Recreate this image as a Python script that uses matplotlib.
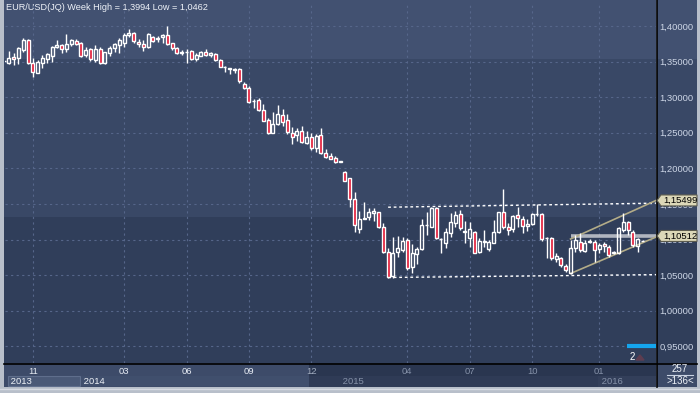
import numpy as np
import matplotlib.pyplot as plt
import matplotlib.transforms as mtransforms
from matplotlib.patches import Rectangle, Polygon

plt.rcParams['font.family'] = ['Liberation Sans', 'DejaVu Sans']

# weekly EUR/USD candles
opens = [1.3512, 1.3485, 1.3560, 1.3546, 1.3663, 1.3803, 1.3485, 1.3345, 1.3485, 1.3536,
         1.3579, 1.3710, 1.3733, 1.3672, 1.3747, 1.3794, 1.3766, 1.3588, 1.3672, 1.3522,
         1.3672, 1.3476, 1.3616, 1.3686, 1.3733, 1.3756, 1.3869, 1.3906, 1.3780, 1.3747,
         1.3700, 1.3850, 1.3817, 1.3841, 1.3873, 1.3756, 1.3686, 1.3616, 1.3633, 1.3649,
         1.3536, 1.3584, 1.3640, 1.3593, 1.3607, 1.3522, 1.3422, 1.3403, 1.3395, 1.3391,
         1.3185, 1.3124, 1.2947, 1.2961, 1.2820, 1.2680, 1.2502, 1.2624, 1.2745, 1.2680,
         1.2502, 1.2465, 1.2530, 1.2362, 1.2436, 1.2282, 1.2469, 1.2212, 1.2174, 1.2142,
         1.2093, 1.1945, 1.1861, 1.1566, 1.1145, 1.1295, 1.1313, 1.1379, 1.1383, 1.1173,
         1.0831, 1.0489, 1.0822, 1.0855, 1.0995, 1.0611, 1.0798, 1.0864, 1.1200, 1.1182,
         1.1439, 1.1009, 1.0957, 1.1098, 1.1229, 1.1355, 1.1110, 1.1018, 1.1112, 1.0831,
         1.0970, 1.0864, 1.0957, 1.1112, 1.1383, 1.1182, 1.1145, 1.1341, 1.1285, 1.1191,
         1.1220, 1.1353, 1.1360, 1.1016, 1.1018, 1.0724, 1.0738, 1.0630, 1.0527, 1.0878,
         1.0972, 1.0845, 1.0970, 1.0972, 1.0864, 1.0939, 1.0901, 1.0808, 1.0808, 1.1135,
         1.1252, 1.1112, 1.0911, 1.0983]
highs = [1.3525, 1.3649, 1.3616, 1.3700, 1.3827, 1.3813, 1.3546, 1.3522, 1.3593, 1.3625,
         1.3719, 1.3803, 1.3747, 1.3887, 1.3817, 1.3813, 1.3770, 1.3700, 1.3686, 1.3733,
         1.3710, 1.3640, 1.3719, 1.3766, 1.3827, 1.3897, 1.3953, 1.3920, 1.3813, 1.3803,
         1.3897, 1.3859, 1.3859, 1.3887, 1.3994, 1.3766, 1.3710, 1.3663, 1.3672, 1.3663,
         1.3616, 1.3649, 1.3672, 1.3630, 1.3616, 1.3532, 1.3438, 1.3415, 1.3410, 1.3405,
         1.3213, 1.3157, 1.2970, 1.2984, 1.2904, 1.2703, 1.2797, 1.2890, 1.2830, 1.2764,
         1.2577, 1.2563, 1.2596, 1.2530, 1.2502, 1.2483, 1.2563, 1.2268, 1.2212, 1.2174,
         1.2100, 1.1968, 1.1861, 1.1674, 1.1407, 1.1524, 1.1440, 1.1440, 1.1393, 1.1238,
         1.0878, 1.1042, 1.1051, 1.1042, 1.1018, 1.0939, 1.0901, 1.1285, 1.1393, 1.1454,
         1.1454, 1.1018, 1.1159, 1.1379, 1.1407, 1.1416, 1.1266, 1.1252, 1.1126, 1.1018,
         1.1135, 1.0995, 1.1275, 1.1393, 1.1706, 1.1238, 1.1346, 1.1454, 1.1332, 1.1285,
         1.1379, 1.1500, 1.1379, 1.1042, 1.1042, 1.0808, 1.0761, 1.0658, 1.0995, 1.1065,
         1.1088, 1.0995, 1.1004, 1.0995, 1.0948, 1.0972, 1.0925, 1.0836, 1.1170, 1.1369,
         1.1266, 1.1135, 1.1018, 1.0990]
lows = [1.3505, 1.3462, 1.3452, 1.3466, 1.3640, 1.3466, 1.3288, 1.3335, 1.3405, 1.3485,
        1.3499, 1.3686, 1.3625, 1.3640, 1.3719, 1.3733, 1.3569, 1.3560, 1.3513, 1.3494,
        1.3466, 1.3466, 1.3579, 1.3640, 1.3625, 1.3710, 1.3850, 1.3766, 1.3700, 1.3653,
        1.3686, 1.3780, 1.3770, 1.3766, 1.3733, 1.3663, 1.3607, 1.3593, 1.3485, 1.3522,
        1.3513, 1.3579, 1.3579, 1.3569, 1.3508, 1.3419, 1.3359, 1.3321, 1.3335, 1.3204,
        1.3110, 1.2914, 1.2853, 1.2811, 1.2661, 1.2483, 1.2493, 1.2610, 1.2596, 1.2483,
        1.2343, 1.2390, 1.2362, 1.2343, 1.2259, 1.2235, 1.2202, 1.2151, 1.2128, 1.2081,
        1.2090, 1.1819, 1.1454, 1.1112, 1.1089, 1.1285, 1.1276, 1.1266, 1.1159, 1.0817,
        1.0462, 1.0462, 1.0761, 1.0831, 1.0574, 1.0536, 1.0658, 1.0855, 1.1065, 1.1173,
        1.1004, 1.0808, 1.0878, 1.1042, 1.1182, 1.1135, 1.0957, 1.0901, 1.0817, 1.0817,
        1.0901, 1.0845, 1.0948, 1.1088, 1.1145, 1.1065, 1.1112, 1.1182, 1.1098, 1.1126,
        1.1205, 1.1332, 1.0985, 1.0737, 1.0714, 1.0691, 1.0621, 1.0550, 1.0517, 1.0831,
        1.0831, 1.0831, 1.0948, 1.0691, 1.0808, 1.0831, 1.0761, 1.0799, 1.0799, 1.1112,
        1.1065, 1.0901, 1.0831, 1.0980]
closes = [1.3515, 1.3546, 1.3532, 1.3686, 1.3803, 1.3476, 1.3359, 1.3499, 1.3546, 1.3602,
          1.3710, 1.3733, 1.3672, 1.3747, 1.3803, 1.3747, 1.3579, 1.3663, 1.3532, 1.3672,
          1.3476, 1.3630, 1.3686, 1.3747, 1.3803, 1.3873, 1.3906, 1.3794, 1.3742, 1.3700,
          1.3887, 1.3794, 1.3836, 1.3873, 1.3747, 1.3686, 1.3616, 1.3640, 1.3635, 1.3532,
          1.3593, 1.3640, 1.3588, 1.3616, 1.3522, 1.3429, 1.3426, 1.3407, 1.3380, 1.3232,
          1.3124, 1.2937, 1.2951, 1.2820, 1.2670, 1.2502, 1.2624, 1.2764, 1.2656, 1.2516,
          1.2446, 1.2530, 1.2376, 1.2446, 1.2282, 1.2455, 1.2212, 1.2165, 1.2137, 1.2095,
          1.2097, 1.1828, 1.1566, 1.1206, 1.1285, 1.1299, 1.1388, 1.1402, 1.1182, 1.0831,
          1.0480, 1.0817, 1.0878, 1.0981, 1.0597, 1.0808, 1.0864, 1.1205, 1.1210, 1.1439,
          1.1018, 1.1004, 1.1112, 1.1252, 1.1346, 1.1159, 1.1114, 1.1145, 1.0817, 1.0986,
          1.0975, 1.0971, 1.1112, 1.1383, 1.1182, 1.1135, 1.1332, 1.1299, 1.1191, 1.1220,
          1.1360, 1.1358, 1.1004, 1.1020, 1.0738, 1.0770, 1.0644, 1.0574, 1.0878, 1.0995,
          1.0855, 1.0948, 1.0975, 1.0855, 1.0925, 1.0911, 1.0785, 1.0831, 1.1159, 1.1252,
          1.1135, 1.0925, 1.1004, 1.0987]

month_labels = ['11', '03', '06', '09', '12', '04', '07', '10', '01']
month_pos = [6, 25, 38, 51, 64, 84, 97, 110, 124]
years = ['2013', '2014', '2015', '2016']
year_pos = [0.8, 16, 70, 124]
price_levels = [1.40, 1.35, 1.30, 1.25, 1.20, 1.15, 1.10, 1.05, 1.00, 0.95]

# drawn objects on the chart
channel_start = 118
channel_upper = [1.1008, 1.15499]
channel_lower = [1.0524, 1.1036]
hline_level = 1.10512
range_start = 80
range_upper = [1.1455, 1.1512]
range_lower = [1.0468, 1.0508]
marker_labels = [1.15499, 1.10512]
blue_level = 0.9506
blue_start = 129.8

W, H = 700, 393
BG_TOP = '#425171'
BG_MID = '#394866'
BG_BOT = '#303e5a'
GRID = '#56668a'

fig = plt.figure(figsize=(W / 100, H / 100), dpi=100)
fig.patch.set_facecolor('#b8bfca')

# ---- chrome (pixel coordinates) ----
bg = fig.add_axes([0, 0, 1, 1])
bg.set_xlim(0, W)
bg.set_ylim(H, 0)
bg.axis('off')

def box(x0, x1, y0, y1, fc, ec='none', lw=0):
    bg.add_patch(Rectangle((x0, y0), x1 - x0, y1 - y0, facecolor=fc, edgecolor=ec, lw=lw))

for x0, x1 in [(4, 656), (657, 697)]:
    box(x0, x1, 0, 59, BG_TOP)
    box(x0, x1, 59, 217, BG_MID)
    box(x0, x1, 217, 363, BG_BOT)

# bottom strip
box(4, 309, 363, 387, '#3d4b69')
box(309, 656, 363, 387, '#2a3650')
box(309, 656, 376, 387, '#2f3b56')
box(8, 80, 376, 386, '#4a5977', '#5f6e8c', 0.8)
box(81, 309, 376, 386, '#404f6d')
box(598, 656, 376, 387, '#333f5a')
box(657, 697, 363, 387, '#3d4b69')
bg.text(680, 369, '257', color='#eef2f8', fontsize=7, ha='center', va='center')
bg.plot([667, 693], [375, 375], color='#c9d2e2', lw=0.8)
bg.text(680, 381.5, '>136<', color='#eef2f8', fontsize=7, ha='center', va='center')

bg.plot([656.5, 656.5], [0, 387], color='black', lw=1.2)
bg.plot([4, 697], [363.5, 363.5], color='black', lw=1.2)
bg.plot([0, W], [388.5, 388.5], color='#d6dae2', lw=1)

bg.text(6, 8, 'EUR/USD(JQ) Week High = 1,3994 Low = 1,0462', color='#eef2f8',
        fontsize=6.6, va='center')
bg.text(632, 357, '2', color='white', fontsize=7, ha='center', va='center')
bg.add_patch(Polygon([[636, 360], [644, 360], [640, 355]], color='#5e3d50'))

# ---- price chart ----
ax = fig.add_axes([5 / W, 1 - 363 / H, 651 / W, 361 / H])
ax.set_facecolor('none')
for s in ax.spines.values():
    s.set_visible(False)
xmax = 135.8
ax.set_xlim(0.19, xmax)
ax.set_ylim(0.92669, 1.43371)

for lv in price_levels:
    ax.axhline(lv, color=GRID, lw=0.8, ls=(0, (2, 3)), zorder=1)
for m in month_pos:
    ax.axvline(m, color=GRID, lw=0.8, ls=(0, (2, 3)), zorder=1)

o, h, l, c = map(np.array, (opens, highs, lows, closes))
idx = np.arange(len(o))
top = np.maximum(o, c)
bot = np.minimum(o, c)
up = c >= o
ax.vlines(idx, top, h, color='white', lw=1, zorder=3)
ax.vlines(idx, l, bot, color='white', lw=1, zorder=3)
ax.bar(idx[up], (top - bot)[up], bottom=bot[up], width=0.62, facecolor='none',
       edgecolor='white', lw=1, zorder=4)
ax.bar(idx[~up], (top - bot)[~up], bottom=bot[~up], width=0.62, facecolor='#e0102e',
       edgecolor='white', lw=1, zorder=4)

# drawings
ax.plot([range_start, xmax], range_upper, color='white', lw=1, ls=(0, (2, 2)), zorder=2)
ax.plot([range_start, xmax], range_lower, color='white', lw=1, ls=(0, (2, 2)), zorder=2)
ax.hlines(hline_level, channel_start, xmax, color='#c8cbd2', lw=2.6, alpha=0.85, zorder=2)
ax.plot([channel_start, xmax], channel_upper, color='#b3ac88', lw=1.2, zorder=2)
ax.plot([channel_start, xmax], channel_lower, color='#b3ac88', lw=1.2, zorder=2)
ax.hlines(blue_level, blue_start, xmax, color='#14a5ee', lw=3, zorder=2)

# axes ticks
ax.yaxis.tick_right()
ax.set_yticks(price_levels)
ax.set_yticklabels([f'{v:.5f}'.replace('.', ',') for v in price_levels])
ax.tick_params(axis='y', length=0, pad=2.3, labelsize=6.8, labelcolor='#cdd6e6')
ax.set_xticks(month_pos)
ax.set_xticklabels(month_labels)
ax.tick_params(axis='x', length=0, pad=2.6, labelsize=6.8)
for i, t in enumerate(ax.get_xticklabels()):
    t.set_color('#e6ebf3' if i < 4 else ('#a2adc0' if i == 4 else '#8591a8'))

ytr = mtransforms.blended_transform_factory(ax.transData, fig.transFigure)
for i, (yr, p) in enumerate(zip(years, year_pos)):
    ax.text(p, 1 - 381.5 / H, ' ' + yr, transform=ytr, fontsize=6.8, va='center',
            color='#eef2f8' if i < 2 else '#8591a8', clip_on=False)

# price marker boxes on the right axis (they cover the 1,15 / 1,10 labels, as in the original)
ptr = mtransforms.blended_transform_factory(fig.transFigure, ax.transData)
hh = 5.5 * (1.43371 - 0.92669) / 361
for v in marker_labels:
    pts = [[657 / W, v], [661 / W, v + hh], [697 / W, v + hh], [697 / W, v - hh], [661 / W, v - hh]]
    ax.add_patch(Polygon(pts, closed=True, transform=ptr, facecolor='#dcd8b8',
                         edgecolor='#5c5b4e', lw=0.8, zorder=10, clip_on=False))
    ax.text(663 / W, v, f'{v:.5f}'.replace('.', ','), transform=ptr, fontsize=6.8,
            color='black', va='center', zorder=11, clip_on=False)

fig.savefig('out.png', dpi=100, facecolor=fig.get_facecolor())
